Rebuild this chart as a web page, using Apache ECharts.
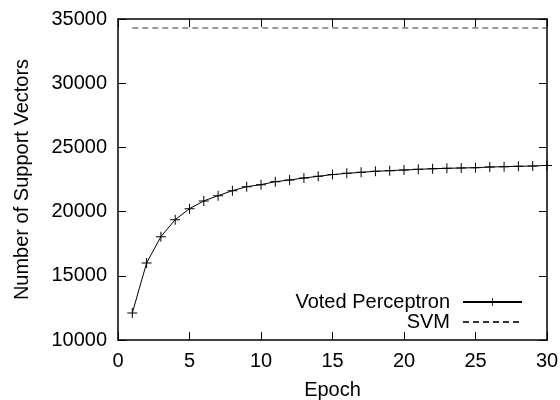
<!DOCTYPE html>
<html>
<head>
<meta charset="utf-8">
<script src="https://cdn.jsdelivr.net/npm/echarts@6/dist/echarts.min.js"></script>
<style>html,body{margin:0;padding:0;background:#fff;}#chart{width:560px;height:400px;}</style>
</head>
<body>
<div id="chart"></div>
<script>
const epochs = [1,2,3,4,5,6,7,8,9,10,11,12,13,14,15,16,17,18,19,20,21,22,23,24,25,26,27,28,29,30];
const votedPerceptron = [12100,16000,18050,19370,20230,20830,21240,21630,21940,22100,22330,22460,22620,22750,22880,22980,23060,23140,23190,23240,23290,23340,23370,23400,23420,23470,23500,23530,23550,23600];
const svmEpochs = [1,30];
const svmValues = [34300,34300];
const xTicks = [0,5,10,15,20,25,30];
const yTicks = [10000,15000,20000,25000,30000,35000];

const FONT = 'Liberation Sans';
const FS = 20;
const plus = 'path://M4.5,0H5.5V4.5H10V5.5H5.5V10H4.5V5.5H0V4.5H4.5Z';

const chart = echarts.init(document.getElementById('chart'), null, {renderer:'canvas'});
const axisLine = () => ({show:true, onZero:false, lineStyle:{color:'#000', width:1.5}});
const tick = () => ({show:true, inside:true, length:8, lineStyle:{color:'#000', width:1}});
const lbl = () => ({fontFamily:FONT, fontSize:FS, color:'#000', margin:11, formatter:v=>String(v)});
chart.setOption({
  animation:false,
  textStyle:{fontFamily:FONT},
  grid:{left:118, right:13, top:19, bottom:60, containLabel:false, outerBoundsMode:'none'},
  legend:{
    orient:'vertical', right:32, top:287, align:'right',
    itemWidth:59, itemHeight:10, itemGap:0,
    textStyle:{fontFamily:FONT, fontSize:FS, color:'#000', padding:[0,8,0,0]},
    data:['Voted Perceptron', {name:'SVM', itemStyle:{opacity:0}}]
  },
  xAxis:[{
    type:'value', min:xTicks[0], max:xTicks[xTicks.length-1], interval:5,
    name:'Epoch', nameLocation:'middle', nameGap:40,
    nameTextStyle:{fontFamily:FONT, fontSize:FS, color:'#000'},
    axisLine:axisLine(), axisTick:tick(), splitLine:{show:false},
    axisLabel:lbl()
  },{
    type:'value', position:'top', min:xTicks[0], max:xTicks[xTicks.length-1], interval:5,
    axisLine:axisLine(), axisTick:tick(), splitLine:{show:false}, axisLabel:{show:false}
  }],
  yAxis:[{
    type:'value', min:yTicks[0], max:yTicks[yTicks.length-1], interval:5000,
    name:'Number of Support Vectors', nameLocation:'middle', nameGap:86,
    nameTextStyle:{fontFamily:FONT, fontSize:FS, color:'#000'},
    axisLine:axisLine(), axisTick:tick(), splitLine:{show:false},
    axisLabel:lbl()
  },{
    type:'value', position:'right', min:yTicks[0], max:yTicks[yTicks.length-1], interval:5000,
    axisLine:axisLine(), axisTick:tick(), splitLine:{show:false}, axisLabel:{show:false}
  }],
  series:[{
    name:'Voted Perceptron', type:'line',
    data:epochs.map((e,i)=>[e, votedPerceptron[i]]),
    symbol:plus, symbolSize:10, showSymbol:true,
    lineStyle:{color:'#000', width:1},
    itemStyle:{color:'#000'},
    emphasis:{disabled:true}
  },{
    name:'SVM', type:'line',
    data:svmEpochs.map((e,i)=>[e, svmValues[i]]),
    symbol:'none', showSymbol:false,
    lineStyle:{color:'#333', width:1, type:[6,4]},
    itemStyle:{color:'#333'},
    emphasis:{disabled:true}
  }]
});
</script>
</body>
</html>
